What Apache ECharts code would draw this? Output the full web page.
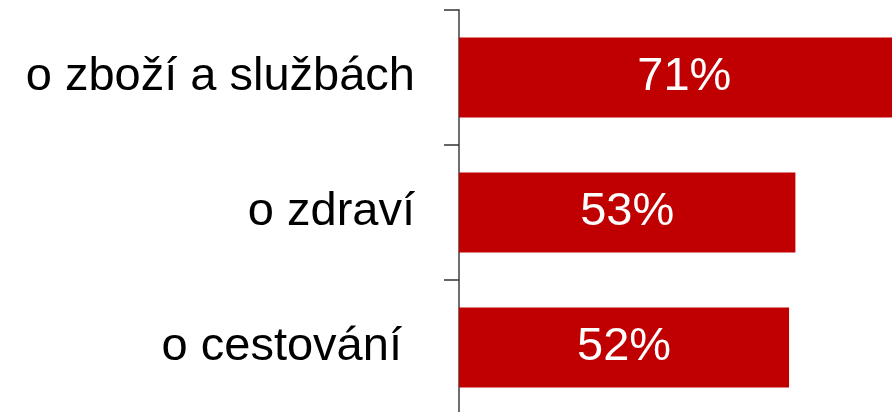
<!DOCTYPE html>
<html>
<head>
<meta charset="utf-8">
<script src="https://cdn.jsdelivr.net/npm/echarts@6/dist/echarts.min.js"></script>
<style>
  html, body { margin: 0; padding: 0; background: #fff; overflow: hidden; }
  #chart { width: 916px; height: 415px; }
</style>
</head>
<body>
<div id="chart"></div>
<script>
// kategorie a hodnoty (v %)
const categories = ['o zboží a službách', 'o zdraví', 'o cestování ']
const values = [71, 53, 52]

const chart = echarts.init(document.getElementById('chart'))

const option = {
  animation: false,
  grid: {
    left: 459,
    right: 0,
    top: 10,
    bottom: 0,
    containLabel: false
  },
  xAxis: {
    type: 'value',
    min: 0,
    max: 72,
    show: false
  },
  yAxis: {
    type: 'category',
    data: categories,
    inverse: true,
    axisLine: { show: true, lineStyle: { color: '#6f6f6f', width: 2 } },
    axisTick: { show: true, length: 15, lineStyle: { color: '#333', width: 1.5 } },
    axisLabel: {
      color: '#000',
      fontSize: 47,
      fontFamily: 'Liberation Sans, Arial, sans-serif',
      margin: 44
    },
    splitLine: { show: false }
  },
  series: [
    {
      type: 'bar',
      data: values,
      barWidth: 80,
      itemStyle: { color: '#C00000' },
      label: {
        show: true,
        position: 'inside',
        formatter: '{c}%',
        color: '#fff',
        fontSize: 47,
        fontFamily: 'Liberation Sans, Arial, sans-serif'
      }
    }
  ]
}

chart.setOption(option)
</script>
</body>
</html>
